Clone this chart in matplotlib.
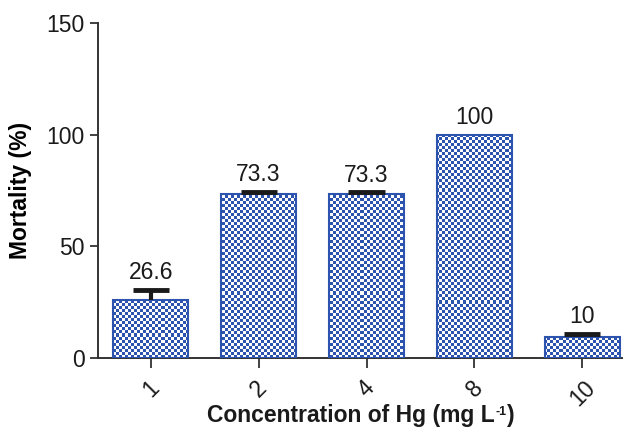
import numpy as np
import matplotlib
matplotlib.use('Agg')
import matplotlib.pyplot as plt
from matplotlib.colors import ListedColormap

# data
concentrations = ['1', '2', '4', '8', '10']
mortality = [26.0, 73.3, 73.3, 100.0, 9.3]
errors_up = [4.4, 1.2, 0.8, 0.0, 1.4]
value_labels = ['26.6', '73.3', '73.3', '100', '10']

plt.rcParams['font.family'] = ['Liberation Sans', 'DejaVu Sans']

fig = plt.figure(figsize=(6.35, 4.28), dpi=100)
ax = fig.add_axes([0.154, 0.164, 0.826, 0.782])

x = np.arange(len(concentrations))
blue = '#2c53ad'
dark = '#1a1a1a'

bars = ax.bar(x, mortality, width=0.7, facecolor='none', edgecolor=blue,
              linewidth=1.5, zorder=3)

xlim = (-0.49, 4.37)
ax.set_xlim(*xlim)
ax.set_ylim(0, 150)

# checkerboard fill, clipped to each bar
cell = 3.0
ncol = int(0.826 * 635 / cell)
nrow = int(0.782 * 428 / cell)
checker = (np.add.outer(np.arange(nrow), np.arange(ncol)) % 2).astype(float)
cmap = ListedColormap(['white', blue])
for b in bars:
    im = ax.imshow(checker, cmap=cmap, extent=[xlim[0], xlim[1], 0, 150],
                   aspect='auto', interpolation='nearest', origin='lower',
                   zorder=2)
    im.set_clip_path(b)

# upper error bars only (drawn by hand so there is no lower cap)
cap_half = 0.167
for xi, h, e in zip(x, mortality, errors_up):
    if e <= 0:
        continue
    ax.vlines(xi, h, h + e, color=dark, linewidth=3, zorder=4)
    ax.hlines(h + e, xi - cap_half, xi + cap_half, color=dark,
              linewidth=3.5, zorder=4)

for xi, h, e, lab in zip(x, mortality, errors_up, value_labels):
    ax.annotate(lab, (xi, h + e), xytext=(0, 4), textcoords='offset points',
                ha='center', va='bottom', fontsize=16.5, color=dark)

ax.set_xticks(x)
ax.set_xticklabels(concentrations, rotation=45, fontsize=16.5,
                   ha='center', va='top', color=dark)
ax.set_yticks([0, 50, 100, 150])
ax.tick_params(axis='y', labelsize=16.5, length=6, width=1.3,
               color='#333333', labelcolor=dark)
ax.tick_params(axis='x', length=7, width=1.3, color='#333333', pad=6)

for s in ['top', 'right']:
    ax.spines[s].set_visible(False)
for s in ['left', 'bottom']:
    ax.spines[s].set_linewidth(1.4)
    ax.spines[s].set_color('#333333')

ax.set_ylabel('Mortality (%)', fontsize=16.5, fontweight='bold', labelpad=10)

# x label built in pieces to get a small superscript "-1"
t1 = fig.text(207 / 635, 0.013, 'Concentration of Hg (mg L', ha='left',
              va='baseline', fontsize=16.5, fontweight='bold', color=dark)
sup = ax.annotate('-1', xy=(1, 1), xycoords=t1, xytext=(0.5, -1),
                  textcoords='offset points', ha='left', va='top',
                  fontsize=9, fontweight='bold', color=dark,
                  annotation_clip=False)
ax.annotate(')', xy=(1, 0), xycoords=(sup, t1), xytext=(0.5, 0),
            textcoords='offset points', ha='left', va='bottom',
            fontsize=16.5, fontweight='bold', color=dark,
            annotation_clip=False)

fig.savefig('out.png', dpi=100)
